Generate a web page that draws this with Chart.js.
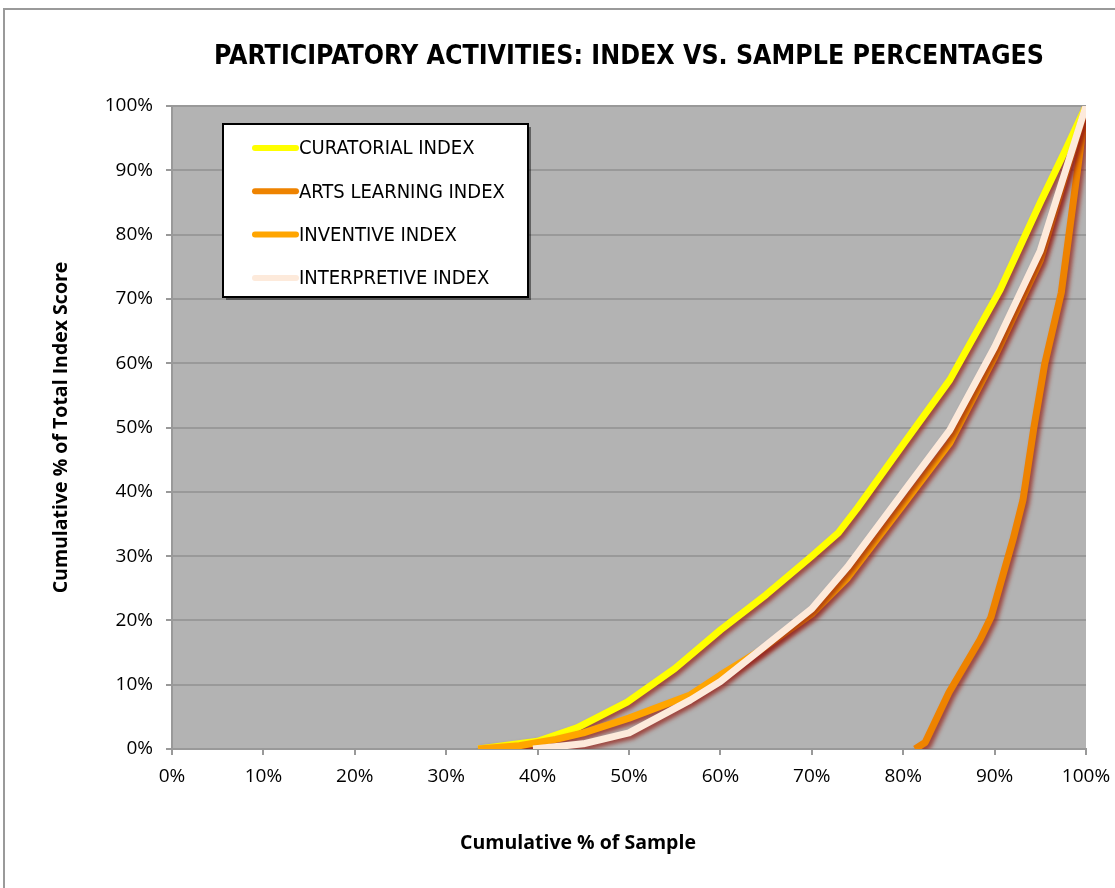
<!DOCTYPE html>
<html>
<head>
<meta charset="utf-8">
<script src="https://cdn.jsdelivr.net/npm/chart.js@4.4.1/dist/chart.umd.min.js"></script>
<style>
  html, body { margin: 0; padding: 0; background: #fff; }
  #wrap { width: 1115px; height: 888px; position: relative; }
</style>
</head>
<body>
<div id="wrap"><canvas id="chart" width="1115" height="888"></canvas></div>
<script>
// chart text
const chartTitle = 'PARTICIPATORY ACTIVITIES: INDEX VS. SAMPLE PERCENTAGES'
const xTitle = 'Cumulative % of Sample'
const yTitle = 'Cumulative % of Total Index Score'

// x = cumulative % of sample, y = cumulative % of index score
const curatorialX = [33.5, 40, 44.3, 49.8, 55, 60, 65, 70, 72.9, 75, 80, 85.1, 90.6, 95, 97.9, 100]
const curatorialY = [0, 1.2, 3.3, 7.3, 12.5, 18.5, 24, 30, 33.6, 37.5, 47.4, 57.4, 71.4, 85, 93.6, 100]

const artsX = [81.3, 82.4, 85, 88.4, 89.6, 92, 93.1, 94.3, 95.5, 97.3, 98.6, 100]
const artsY = [0, 1, 8.8, 17, 20.5, 32.5, 38.7, 50, 60, 71, 85, 100]

const inventiveX = [33.5, 38, 42, 45, 50, 56.7, 60, 64, 70, 73.9, 80, 85.1, 90, 95, 100]
const inventiveY = [0, 0.5, 1.5, 2.5, 4.8, 8.4, 11.5, 15, 21, 26.6, 38, 47.6, 61, 76, 100]

const interpretiveX = [39.5, 45, 50, 56.7, 60, 64, 70, 73.9, 80, 85.1, 90, 95, 100]
const interpretiveY = [0, 0.8, 2.5, 7.6, 10.5, 15, 21.8, 28.3, 39.9, 49.6, 62.5, 77.5, 100]

function pairs(xs, ys) {
  return xs.map((x, i) => ({ x: x, y: ys[i] }))
}

// outer frame, grey plot background and line shadows
const decor = {
  id: 'decor',
  beforeDraw(chart) {
    const { ctx, chartArea: a } = chart
    ctx.save()
    ctx.strokeStyle = '#9a9a9a'
    ctx.lineWidth = 2
    ctx.strokeRect(4, 9, 1300, 1000)
    ctx.fillStyle = '#b3b3b3'
    ctx.fillRect(a.left, a.top, a.right - a.left, a.bottom - a.top)
    ctx.restore()
  },
  beforeDatasetsDraw(chart) {
    const ctx = chart.ctx
    ctx.save()
    ctx.shadowColor = 'rgba(150, 30, 20, 0.75)'
    ctx.shadowOffsetX = 3
    ctx.shadowOffsetY = 3
    ctx.shadowBlur = 4
  },
  afterDatasetsDraw(chart) {
    chart.ctx.restore()
  }
}

// legend box drawn inside the plot, like the original
const boxLegend = {
  id: 'boxLegend',
  afterDraw(chart) {
    const ctx = chart.ctx
    const x = 223, y = 124, w = 305, h = 173
    ctx.save()
    ctx.fillStyle = 'rgba(0,0,0,0.45)'
    ctx.fillRect(x + 3, y + 3, w, h)
    ctx.fillStyle = '#fff'
    ctx.fillRect(x, y, w, h)
    ctx.strokeStyle = '#000'
    ctx.lineWidth = 2
    ctx.strokeRect(x, y, w, h)
    ctx.font = '20px "DejaVu Sans Condensed", "DejaVu Sans"'
    ctx.textBaseline = 'middle'
    ctx.lineCap = 'round'
    chart.data.datasets.forEach((ds, i) => {
      const ly = 148 + i * 43.3
      ctx.strokeStyle = ds.borderColor
      ctx.lineWidth = 6
      ctx.beginPath()
      ctx.moveTo(255, ly)
      ctx.lineTo(296, ly)
      ctx.stroke()
      ctx.fillStyle = '#000'
      ctx.fillText(ds.label, 299, ly + 1)
    })
    ctx.restore()
  }
}

// x axis title, sits left of the plot centre in the original
const xAxisTitle = {
  id: 'xAxisTitle',
  afterDraw(chart) {
    const ctx = chart.ctx
    ctx.save()
    ctx.font = 'bold 19.5px "Open Sans"'
    ctx.fillStyle = '#000'
    ctx.textAlign = 'center'
    ctx.textBaseline = 'middle'
    ctx.fillText(xTitle, 578, 843)
    ctx.restore()
  }
}

const pct = v => v + '%'

new Chart(document.getElementById('chart'), {
  type: 'line',
  data: {
    datasets: [
      { label: 'CURATORIAL INDEX', data: pairs(curatorialX, curatorialY), borderColor: '#ffff00', order: 3 },
      { label: 'ARTS LEARNING INDEX', data: pairs(artsX, artsY), borderColor: '#ee8300', order: 2 },
      { label: 'INVENTIVE INDEX', data: pairs(inventiveX, inventiveY), borderColor: '#ffa500', order: 1 },
      { label: 'INTERPRETIVE INDEX', data: pairs(interpretiveX, interpretiveY), borderColor: '#fdeadb', order: 0 }
    ]
  },
  options: {
    responsive: false,
    animation: false,
    layout: { padding: { top: 0, right: 29, bottom: 0, left: 0 } },
    elements: {
      line: { borderWidth: 7, tension: 0, borderCapStyle: 'butt', borderJoinStyle: 'round', fill: false },
      point: { radius: 0, hoverRadius: 0 }
    },
    plugins: {
      legend: { display: false },
      tooltip: { enabled: false },
      title: {
        display: true,
        fullSize: false,
        text: chartTitle,
        color: '#000',
        font: { family: '"DejaVu Sans Condensed", "DejaVu Sans"', size: 26.5, weight: 'bold', lineHeight: 1.2 },
        padding: { top: 41.6, bottom: 32.6 }
      }
    },
    scales: {
      x: {
        type: 'linear',
        min: 0,
        max: 100,
        afterFit: s => { s.height = 139; s.paddingLeft = 0; s.paddingRight = 0 },
        ticks: { stepSize: 10, callback: pct, color: '#000', padding: 10, maxRotation: 0,
                 font: { family: '"Open Sans"', size: 19 } },
        grid: { drawOnChartArea: false, drawTicks: true, tickLength: 6, color: '#999', lineWidth: 2 },
        border: { color: '#999', width: 2 }
      },
      y: {
        type: 'linear',
        min: 0,
        max: 100,
        afterFit: s => { s.width = 172 },
        ticks: { stepSize: 10, callback: pct, color: '#000', padding: 13,
                 font: { family: '"Open Sans"', size: 19 } },
        grid: { color: '#999', lineWidth: 2, drawTicks: true, tickLength: 6 },
        border: { color: '#999', width: 2 },
        title: {
          display: true,
          text: yTitle,
          color: '#000',
          font: { family: '"Open Sans"', size: 19.5, weight: 'bold', lineHeight: 1.2 },
          padding: { top: 50, bottom: 0 }
        }
      }
    }
  },
  plugins: [decor, boxLegend, xAxisTitle]
})
</script>
</body>
</html>
